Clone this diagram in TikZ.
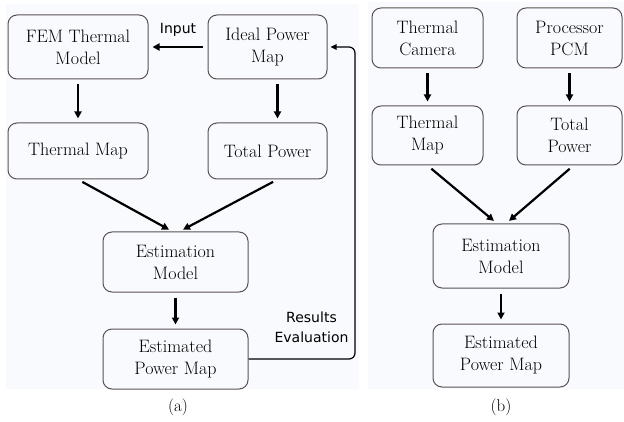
\documentclass[tikz,border=0pt]{standalone}
\usepackage{fontspec}
\usepackage{tikz}
\usetikzlibrary{arrows.meta,positioning}
\newfontfamily\labelfont{DejaVu Sans}
\definecolor{panelbg}{HTML}{F8FAFD}
\definecolor{boxline}{HTML}{5A5252}

\begin{document}
\begin{tikzpicture}[x=1pt,y=-1pt,
        block/.style={draw=boxline, line width=1pt, rounded corners=9pt, align=center,
            font={\fontsize{18}{22}\selectfont}, inner sep=0pt},
        flow/.style={line width=2.2pt, -{Triangle[length=7pt,width=7pt]}, shorten >=4pt, shorten <=5pt},
        feedback/.style={line width=1.2pt, rounded corners=6pt, -{Triangle[length=6pt,width=5.5pt]}, shorten >=3pt},
        note/.style={font={\labelfont\fontsize{14}{20}\selectfont}, align=center},
        caption/.style={font={\fontsize{17}{20}\selectfont}}]
        \useasboundingbox (0,0) rectangle (624,422);
        \fill[panelbg] (6,4) rectangle (359,389);
        \fill[panelbg] (368,2) rectangle (624,389);

        % (a) simulation flow
        \node[block, minimum width=140pt, minimum height=64pt] (fem) at (78,47) {FEM Thermal\\Model};
        \node[block, minimum width=119pt, minimum height=64pt] (ideal) at (267.5,47) {Ideal Power\\Map};
        \node[block, minimum width=140pt, minimum height=56pt] (tmapa) [below=43pt of fem] {Thermal Map};
        \node[block, minimum width=119pt, minimum height=56pt] (tpowa) [below=43pt of ideal] {Total Power};
        \node[block, minimum width=145pt, minimum height=60pt] (esta) at (175.5,262) {Estimation\\Model};
        \node[block, minimum width=145pt, minimum height=60pt] (epma) [below=36pt of esta] {Estimated\\Power Map};

        \draw[flow] (ideal.west) -- node[note, above=6pt] (input) {Input} (fem.east);
        \draw[flow] (fem) -- (tmapa);
        \draw[flow] ([xshift=10pt]ideal.south) -- ([xshift=10pt]tpowa.north);
        \draw[flow] (tmapa.south) -- ([xshift=-3pt]esta.north);
        \draw[flow] ([xshift=10pt]tpowa.south) -- ([xshift=4pt]esta.north);
        \draw[flow] (esta) -- (epma);
        \coordinate (loop) at (355,0);
        \draw[feedback] (epma.east) -- (epma.east -| loop) -- (ideal.east -| loop) -- (ideal.east);
        \node[note] (results) at (311.5,327) {Results\\Evaluation};
        \node[caption] (capa) at (178,407) {(a)};

        % (b) measurement flow
        \node[block, minimum width=111pt, minimum height=60pt] (tcam) at (427.5,38) {Thermal\\Camera};
        \node[block, minimum width=105pt, minimum height=60pt] (ppcm) at (569.5,38) {Processor\\PCM};
        \node[block, minimum width=111pt, minimum height=59pt] (tmapb) [below=37pt of tcam] {Thermal\\Map};
        \node[block, minimum width=105pt, minimum height=59pt] (tpowb) [below=37pt of ppcm] {Total\\Power};
        \node[block, minimum width=136pt, minimum height=64pt] (estb) at (501,256) {Estimation\\Model};
        \node[block, minimum width=136pt, minimum height=63pt] (epmb) [below=35pt of estb] {Estimated\\Power Map};

        \draw[flow] (tcam) -- (tmapb);
        \draw[flow] (ppcm) -- (tpowb);
        \draw[flow] (tmapb.south) -- ([xshift=-4pt]estb.north);
        \draw[flow] ([xshift=4pt]tpowb.south) -- ([xshift=5pt]estb.north);
        \draw[flow] (estb) -- (epmb);
        \node[caption] (capb) at (501,407) {(b)};
\end{tikzpicture}
\end{document}
